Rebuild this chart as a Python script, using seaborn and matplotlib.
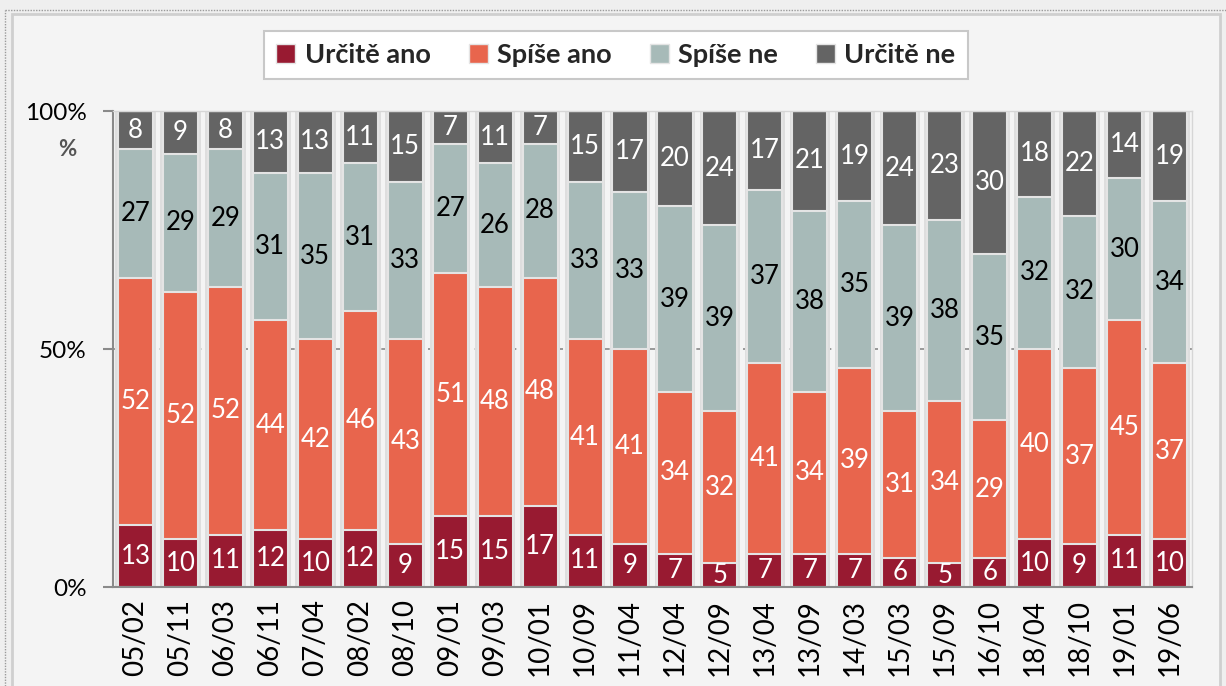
import seaborn as sns
import pandas as pd
import matplotlib
matplotlib.use("Agg")
import matplotlib.pyplot as plt
from matplotlib.patches import Patch, Rectangle
from matplotlib.lines import Line2D

# data
dates = ["05/02", "05/11", "06/03", "06/11", "07/04", "08/02", "08/10", "09/01",
         "09/03", "10/01", "10/09", "11/04", "12/04", "12/09", "13/04", "13/09",
         "14/03", "15/03", "15/09", "16/10", "18/04", "18/10", "19/01", "19/06"]
urcite_ano = [13, 10, 11, 12, 10, 12, 9, 15, 15, 17, 11, 9, 7, 5, 7, 7, 7, 6, 5, 6, 10, 9, 11, 10]
spise_ano = [52, 52, 52, 44, 42, 46, 43, 51, 48, 48, 41, 41, 34, 32, 41, 34, 39, 31, 34, 29, 40, 37, 45, 37]
spise_ne = [27, 29, 29, 31, 35, 31, 33, 27, 26, 28, 33, 33, 39, 39, 37, 38, 35, 39, 38, 35, 32, 32, 30, 34]
urcite_ne = [8, 9, 8, 13, 13, 11, 15, 7, 11, 7, 15, 17, 20, 24, 17, 21, 19, 24, 23, 30, 18, 22, 14, 19]

series = ["Určitě ano", "Spíše ano", "Spíše ne", "Určitě ne"]
colors = ["#981a31", "#e8654d", "#a7bab8", "#646464"]
text_colors = ["white", "white", "black", "white"]

df = pd.DataFrame({"datum": dates, "Určitě ano": urcite_ano, "Spíše ano": spise_ano,
                   "Spíše ne": spise_ne, "Určitě ne": urcite_ne})

# 100% stacked: shares of row total, then cumulative tops
shares = df[series].div(df[series].sum(axis=1), axis=0) * 100
cum = shares.cumsum(axis=1)
cum["datum"] = dates

sns.set_theme(style="white")
plt.rcParams["font.family"] = ["Lato", "DejaVu Sans"]

fig = plt.figure(figsize=(12.26, 6.86), dpi=100, facecolor="#efefef")
# outer panel
fig.patches.append(Rectangle((12 / 1226, -0.01), (1220 - 12) / 1226, 1 - 14 / 686 + 0.01,
                             transform=fig.transFigure, facecolor="#f4f4f4",
                             edgecolor="#cfcfcf", lw=2, zorder=-10))
fig.lines.append(Line2D([5 / 1226, 1], [1 - 10 / 686] * 2, transform=fig.transFigure,
                        color="#9a9a9a", lw=1, ls=(0, (1, 1)), zorder=-5))
fig.lines.append(Line2D([5 / 1226] * 2, [0, 1 - 10 / 686], transform=fig.transFigure,
                        color="#9a9a9a", lw=1, ls=(0, (1, 1)), zorder=-5))

ax = fig.add_axes([113 / 1226, 1 - 587 / 686, (1192 - 113) / 1226, (587 - 111) / 686])
ax.set_facecolor("#f4f4f4")

ax.axhline(50, ls=(0, (4, 3)), color="#8a8a8a", lw=1.2, zorder=0.5)

# soft shadow behind each column
sns.barplot(data=cum, x="datum", y=series[-1], color="#dedede", width=0.9,
            saturation=1, errorbar=None, linewidth=0, ax=ax, zorder=0.8)

for s, c in reversed(list(zip(series, colors))):
    sns.barplot(data=cum, x="datum", y=s, color=c, width=0.78, saturation=1,
                errorbar=None, edgecolor="#e4e4e4", linewidth=1.5, ax=ax)

for j, s in enumerate(series):
    for i in range(len(dates)):
        center = cum[s][i] - shares[s][i] / 2
        ax.text(i, center, str(df[s][i]), ha="center", va="center",
                color=text_colors[j], fontsize=18.5)

ax.set_xlim(-0.5, len(dates) - 0.5)
ax.set_ylim(0, 100)
ax.set_yticks([0, 50, 100])
ax.set_yticklabels(["0%", "50%", "100%"], fontsize=17.5, color="black")
ax.set_xticks(range(len(dates)))
ax.set_xticklabels(dates, rotation=90, fontsize=20, color="black")
ax.set_xticks([i - 0.5 for i in range(len(dates) + 1)], minor=True)
ax.tick_params(axis="x", which="major", length=0, pad=9)
ax.tick_params(axis="x", which="minor", length=7, width=1.5, color="#8a8a8a", direction="out")
ax.tick_params(axis="y", length=7, width=1.5, color="#8a8a8a", direction="out", pad=12, left=True)
ax.set_xlabel("")
ax.set_ylabel("")
ax.text(-0.042, 0.92, "%", transform=ax.transAxes, ha="center", va="center",
        fontsize=16, color="#555555", fontweight="bold")

for side in ["left", "bottom"]:
    ax.spines[side].set_color("#8a8a8a")
    ax.spines[side].set_linewidth(1.5)
for side in ["top", "right"]:
    ax.spines[side].set_color("#d6d6d6")
    ax.spines[side].set_linewidth(1)

handles = [Patch(facecolor=c, edgecolor="#e4e4e4") for c in colors]
leg = fig.legend(handles, series, loc="center", bbox_to_anchor=(616 / 1226, 1 - 55 / 686),
                 ncol=4, frameon=True, fancybox=False, edgecolor="#c8c8c8",
                 facecolor="white", framealpha=1,
                 prop={"weight": "bold", "size": 19.5}, handlelength=0.7, handleheight=0.7,
                 columnspacing=1.4, handletextpad=0.35, borderpad=0.45)
leg.get_frame().set_linewidth(1.5)

fig.savefig("out.png", dpi=100, facecolor=fig.get_facecolor())
